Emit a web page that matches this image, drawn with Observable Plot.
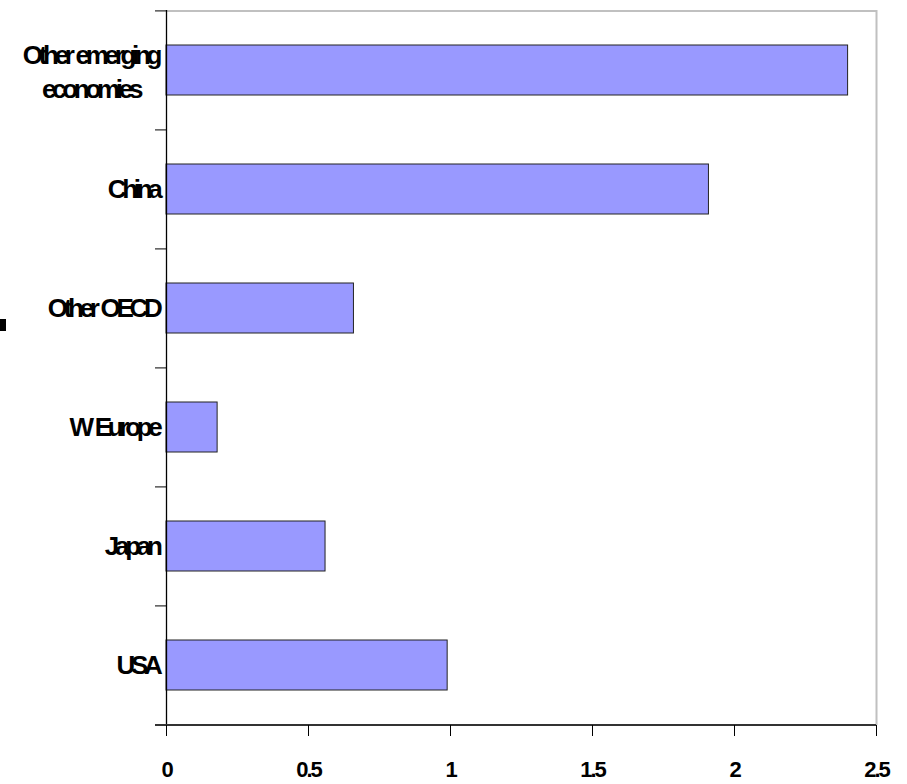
<!DOCTYPE html>
<html><head><meta charset="utf-8">
<script src="https://cdn.jsdelivr.net/npm/d3@7"></script>
<script src="https://cdn.jsdelivr.net/npm/@observablehq/plot@0.6"></script>
<style>
body{margin:0;background:#fff;}
#chart{position:relative;width:907px;height:784px;}
#marker{position:absolute;left:0;top:319px;width:6px;height:12px;background:#000;}
#chart svg g[aria-label="x-axis tick label"] text{letter-spacing:-2px;}
#chart svg g[aria-label="text"] text{letter-spacing:-4.3px;word-spacing:2px;}
</style></head><body><div id="chart"><div id="marker"></div></div>
<script>
const regions = ["Other emerging\neconomies", "China", "Other OECD", "W Europe", "Japan", "USA"];
const values = [2.4, 1.91, 0.66, 0.18, 0.56, 0.99];
const xTicks = [0, 0.5, 1, 1.5, 2, 2.5];

const data = regions.map((r, i) => ({region: r, value: values[i]}));
const W = 907, H = 784, mL = 166, mR = 31, mT = 10, mB = 59;
const step = (H - mT - mB) / regions.length;
const tickLen = 11 / ((W - mL - mR) / 2.5);
const labelFont = "'Liberation Sans',Arial,sans-serif";

const chart = Plot.plot({
  width: W, height: H,
  marginLeft: mL, marginRight: mR, marginTop: mT, marginBottom: mB,
  style: {fontFamily: "'Liberation Sans',Arial,sans-serif", background: "#fff", color: "#000", overflow: "visible"},
  x: {domain: [0, 2.5], axis: null},
  y: {domain: regions, paddingInner: 0.58, paddingOuter: 0.29, axis: null},
  marks: [
    Plot.ruleX([2.5], {stroke: "#c0c0c0", strokeWidth: 2}),
    Plot.ruleY([regions[0]], {y: d => d, x1: 0, x2: 2.5, dy: -step / 2, stroke: "#c0c0c0", strokeWidth: 2}),
    Plot.barX(data, {y: "region", x: "value", fill: "#9999ff", stroke: "#222", strokeWidth: 1}),
    Plot.ruleX([0], {stroke: "#000", strokeWidth: 1.3}),
    Plot.ruleY(regions, {y: d => d, x1: -tickLen, x2: 0, dy: -step / 2, stroke: "#000", strokeWidth: 1}),
    Plot.ruleY([regions[regions.length - 1]], {y: d => d, x1: -tickLen, x2: 2.5, dy: step / 2, stroke: "#333", strokeWidth: 2}),
    Plot.axisX(xTicks, {label: null, tickSize: 11, tickPadding: 25, stroke: "#000", tickFormat: d => String(d), fontSize: 22, fontWeight: "bold"}),
    Plot.text(regions.filter(r => !r.includes("\n")), {y: d => d, x: 0, dx: -8, textAnchor: "end", fontSize: 26, fontWeight: "bold", fontFamily: labelFont, fill: "#000"}),
    Plot.text(regions.filter(r => r.includes("\n")), {y: d => d, x: 0, dx: -76, textAnchor: "middle", lineHeight: 1.3, fontSize: 26, fontWeight: "bold", fontFamily: labelFont, fill: "#000"})
  ]
});
document.getElementById("chart").appendChild(chart);
</script>
</body></html>
